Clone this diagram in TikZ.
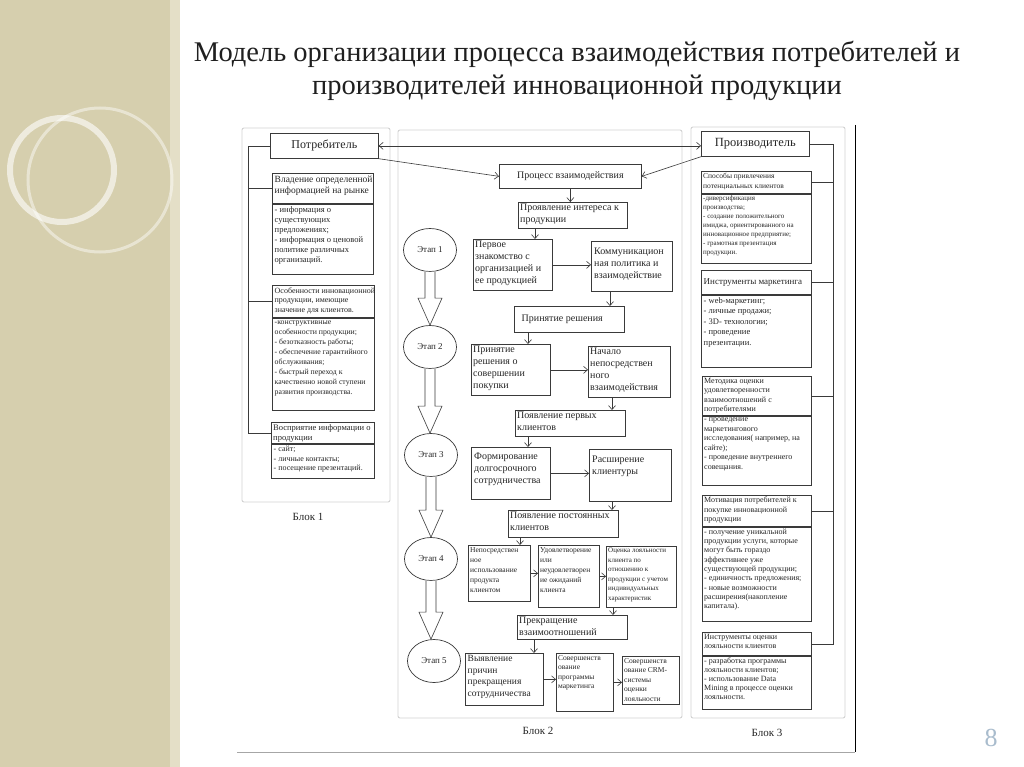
\documentclass[tikz,border=0pt]{standalone}
\usepackage{fontspec}
\setmainfont{Liberation Serif}
\usetikzlibrary{arrows.meta,calc,shapes.geometric}
\definecolor{lnc}{HTML}{3a3a3a}
\definecolor{frc}{HTML}{d2d2d2}
\definecolor{beigec}{HTML}{d6cfae}
\definecolor{bandc}{HTML}{e4dfc7}
\definecolor{numc}{HTML}{a9bccd}
\definecolor{txc}{HTML}{262626}
\newcommand\ftA{\fontsize{10}{12}\selectfont}
\newcommand\ftB{\fontsize{9.5}{11.5}\selectfont}
\newcommand\ftC{\fontsize{8.5}{10}\selectfont}
\newcommand\ftD{\fontsize{8}{9.5}\selectfont}
\newcommand\ftE{\fontsize{7.5}{9.5}\selectfont}
\newcommand\ftF{\fontsize{7}{9}\selectfont}
\newcommand\holarrow[2]{\draw[hol] let \p1=(#1.south), \p2=(#2.north) in (\x1-5pt,\y1) -- (\x1-5pt,\y2+27pt) -- (\x1-12pt,\y2+27pt) -- (\x1,\y2) -- (\x1+12pt,\y2+27pt) -- (\x1+5pt,\y2+27pt) -- (\x1+5pt,\y1);}
\begin{document}
\begin{tikzpicture}[x=1pt,y=-1pt,
 bx/.style={draw=lnc,line width=0.7pt,inner sep=0pt,anchor=north west},
 txt/.style={inner sep=2.5pt,anchor=north west,align=left,text=txc},
 arr/.style={draw=lnc,line width=0.6pt,-{Straight Barb[length=4pt,width=7pt]}},
 darr/.style={draw=lnc,line width=0.6pt,{Straight Barb[length=4pt,width=7pt]}-{Straight Barb[length=4pt,width=7pt]}},
 lnk/.style={draw=lnc,line width=0.6pt},
 fram/.style={draw=frc,line width=0.9pt,rounded corners=2pt},
 etap/.style={ellipse,draw=lnc,line width=0.7pt,fill=white,minimum width=53pt,minimum height=43pt,inner sep=0pt,font=\fontsize{9}{10}\selectfont,text=txc},
 hol/.style={draw=lnc,line width=0.6pt,fill=white,line join=miter},
 blk/.style={font=\fontsize{11}{12}\selectfont,text=txc}]
\useasboundingbox (0,0) rectangle (1024,767);
% background
\fill[white] (0,0) rectangle (1024,767);
\fill[beigec] (0,0) rectangle (180,767);
\fill[bandc] (170,0) rectangle (180,767);
\draw[white,opacity=0.6,line width=6pt] (62,170) circle (52);
\draw[white,opacity=0.45,line width=3pt] (100,180) circle (72);
% title
\node[font=\fontsize{28.5}{33}\selectfont,text=black!88,align=center] (title) at (577,71) {Модель организации процесса взаимодействия потребителей и\\производителей инновационной продукции};
% outer image border
\coordinate (obl) at (237,752);
\coordinate (obr) at (855,752);
\coordinate (otr) at (855,125);
\draw[black!35,line width=1pt] (obl) -- (obr);
\draw[black,line width=1pt] (otr) -- (obr);
% block frames
\draw[fram] (242,128) rectangle (390,502);
\draw[fram] (398,130) rectangle (682,718);
\draw[fram] (691,127) rectangle (845,718);
\node[blk] (l1) at (308,517) {Блок 1};
\node[blk] (l2) at (538,731) {Блок 2};
\node[blk] (l3) at (767,733) {Блок 3};
% ---------- Block 1
\node[bx,minimum width=108pt,minimum height=25pt,anchor=north west,font=\fontsize{12}{14}\selectfont,text=txc] (pot) at (270,133) {Потребитель};
\node[bx,minimum width=101pt,minimum height=30pt] (h1) at (272,173) {};
\node[txt,font=\ftB] at (h1.north west) {Владение определенной\\информацией на рынке};
\node[bx,minimum width=101pt,minimum height=70pt] (b1) at (h1.south west) {};
\node[txt,font=\ftC] at (b1.north west) {- информация о\\существующих\\предложениях;\\- информация о ценовой\\политике различных\\организаций.};
\node[bx,minimum width=102pt,minimum height=32pt] (h2) at (272,285) {};
\node[txt,font=\ftD] at (h2.north west) {Особенности инновационной\\продукции, имеющие\\значение для клиентов.};
\node[bx,minimum width=102pt,minimum height=92pt] (b2) at (h2.south west) {};
\node[txt,font=\fontsize{7.8}{10}\selectfont] at (b2.north west) {-конструктивные\\особенности продукции;\\- безотказность работы;\\- обеспечение гарантийного\\обслуживания;\\- быстрый переход к\\качественно новой ступени\\развития производства.};
\node[bx,minimum width=103pt,minimum height=21pt] (h3) at (271,422) {};
\node[txt,font=\ftC,inner sep=2pt] at (h3.north west) {Восприятие информации о\\продукции};
\node[bx,minimum width=103pt,minimum height=34pt] (b3) at (h3.south west) {};
\node[txt,font=\ftD] at (b3.north west) {- сайт;\\- личные контакты;\\- посещение презентаций.};
\coordinate (lv) at (248,0);
\draw[lnk] (pot.west) -| (lv |- h3.west) -- (h3.west);
\draw[lnk] (h1.west -| lv) -- (h1.west);
\draw[lnk] (h2.west -| lv) -- (h2.west);
% ---------- Block 3
\node[bx,minimum width=108pt,minimum height=25pt,anchor=north west,font=\fontsize{12.5}{14}\selectfont,text=txc] (pro) at (701,131) {Производитель};
\node[bx,minimum width=110pt,minimum height=22pt] (k1h) at (701,171) {};
\node[txt,font=\ftE,inner sep=2pt] at (k1h.north west) {Способы привлечения\\потенциальных клиентов};
\node[bx,minimum width=110pt,minimum height=69pt] (k1b) at (k1h.south west) {};
\node[txt,font=\ftF,inner sep=2pt] at (k1b.north west) {-диверсификация\\производства;\\- создание положительного\\имиджа, ориентированного на\\инновационное предприятие;\\- грамотная презентация\\продукции.};
\node[bx,minimum width=110pt,minimum height=24pt] (k2h) at (701,270) {};
\node[txt,font=\fontsize{9}{11}\selectfont,anchor=west] at (k2h.west) {Инструменты маркетинга};
\node[bx,minimum width=110pt,minimum height=72pt] (k2b) at (k2h.south west) {};
\node[txt,font=\fontsize{8.5}{10.5}\selectfont] at (k2b.north west) {- web-маркетинг;\\- личные продажи;\\- 3D- технологии;\\- проведение\\презентации.};
\node[bx,minimum width=109pt,minimum height=39pt] (k3h) at (702,376) {};
\node[txt,font=\ftD,inner sep=2pt] at (k3h.north west) {Методика оценки\\удовлетворенности\\взаимоотношений с\\потребителями};
\node[bx,minimum width=109pt,minimum height=69pt] (k3b) at (k3h.south west) {};
\node[txt,font=\ftD,inner sep=2pt] at (k3b.north west) {- проведение\\маркетингового\\исследования( например, на\\сайте);\\- проведение внутреннего\\совещания.};
\node[bx,minimum width=109pt,minimum height=31pt] (k4h) at (702,495) {};
\node[txt,font=\ftD,inner sep=2pt] at (k4h.north west) {Мотивация потребителей к\\покупке инновационной\\продукции};
\node[bx,minimum width=109pt,minimum height=94pt] (k4b) at (k4h.south west) {};
\node[txt,font=\fontsize{8}{9.3}\selectfont,inner sep=2pt] at (k4b.north west) {- получение уникальной\\продукции услуги, которые\\могут быть гораздо\\эффективнее уже\\существующей продукции;\\- единичность предложения;\\- новые возможности\\расширения(накопление\\капитала).};
\node[bx,minimum width=109pt,minimum height=23pt] (k5h) at (702,632) {};
\node[txt,font=\ftD,inner sep=2pt] at (k5h.north west) {Инструменты оценки\\лояльности клиентов};
\node[bx,minimum width=109pt,minimum height=53pt] (k5b) at (k5h.south west) {};
\node[txt,font=\fontsize{8}{9}\selectfont,inner sep=2pt] at (k5b.north west) {- разработка программы\\лояльности клиентов;\\- использование Data\\Mining в процессе оценки\\лояльности.};
\coordinate (rv) at (833,0);
\draw[lnk] (pro.east) -| (rv |- k5h.east) -- (k5h.east);
\draw[lnk] (k1h.east -| rv) -- (k1h.east);
\draw[lnk] (k2h.east -| rv) -- (k2h.east);
\draw[lnk] (k3h.east -| rv) -- (k3h.east);
\draw[lnk] (k4h.east -| rv) -- (k4h.east);
% ---------- Block 2
\node[bx,minimum width=142pt,minimum height=24pt,font=\ftA,text=txc] (proc) at (499,164) {Процесс взаимодействия};
\node[bx,minimum width=109pt,minimum height=26pt] (int) at (518,202) {};
\node[txt,font=\ftA,inner sep=2pt] at (int.north west) {Проявление интереса к\\продукции};
\node[bx,minimum width=79pt,minimum height=51pt] (perv) at (473,239) {};
\node[txt,font=\ftA,inner sep=2pt] at (perv.north west) {Первое\\знакомство с\\организацией и\\ее продукцией};
\node[bx,minimum width=81pt,minimum height=50pt] (komm) at (591,241) {};
\node[txt,font=\ftA,inner sep=3pt,yshift=-4pt] at (komm.north west) {Коммуникацион\\ная политика и\\взаимодействие};
\node[bx,minimum width=110pt,minimum height=26pt] (prin) at (514,306) {};
\node[txt,font=\ftA,anchor=west,xshift=5pt] at (prin.west) {Принятие решения};
\node[bx,minimum width=79pt,minimum height=51pt] (pr2) at (471,344) {};
\node[txt,font=\ftA,inner sep=2pt] at (pr2.north west) {Принятие\\решения о\\совершении\\покупки};
\node[bx,minimum width=82pt,minimum height=51pt] (nach) at (588,346) {};
\node[txt,font=\ftA,inner sep=2pt] at (nach.north west) {Начало\\непосредствен\\ного\\взаимодействия};
\node[bx,minimum width=110pt,minimum height=26pt] (pp) at (515,410) {};
\node[txt,font=\ftA,inner sep=2pt] at (pp.north west) {Появление первых\\клиентов};
\node[bx,minimum width=79pt,minimum height=52pt] (form) at (471,447) {};
\node[txt,font=\ftA,inner sep=3pt,yshift=-3pt] at (form.north west) {Формирование\\долгосрочного\\сотрудничества};
\node[bx,minimum width=82pt,minimum height=52pt] (rash) at (589,449) {};
\node[txt,font=\ftA,inner sep=3pt,yshift=-4pt] at (rash.north west) {Расширение\\клиентуры};
\node[bx,minimum width=110pt,minimum height=27pt] (pc) at (508,510) {};
\node[txt,font=\ftA,inner sep=2pt] at (pc.north west) {Появление постоянных\\клиентов};
\node[bx,minimum width=62pt,minimum height=56pt] (nep) at (468,545) {};
\node[txt,font=\fontsize{7.5}{10}\selectfont,inner sep=2pt] at (nep.north west) {Непосредствен\\ное\\использование\\продукта\\клиентом};
\node[bx,minimum width=61pt,minimum height=62pt] (udo) at (538,545) {};
\node[txt,font=\fontsize{7.5}{10}\selectfont,inner sep=2pt] at (udo.north west) {Удовлетворение\\или\\неудовлетворен\\ие ожиданий\\клиента};
\node[bx,minimum width=70pt,minimum height=61pt] (ots) at (606,546) {};
\node[txt,font=\fontsize{7}{9.5}\selectfont,inner sep=2pt] at (ots.north west) {Оценка лояльности\\клиента по\\отношению к\\продукции с учетом\\индивидуальных\\характеристик};
\node[bx,minimum width=110pt,minimum height=24pt] (prek) at (517,615) {};
\node[txt,font=\ftA,inner sep=2pt] at (prek.north west) {Прекращение\\взаимоотношений};
\node[bx,minimum width=78pt,minimum height=52pt] (vyy) at (465,653) {};
\node[txt,font=\ftB,inner sep=2.5pt] at (vyy.north west) {Выявление\\причин\\прекращения\\сотрудничества};
\node[bx,minimum width=57pt,minimum height=58pt] (sov) at (556,653) {};
\node[txt,font=\ftE,inner sep=2pt] at (sov.north west) {Совершенств\\ование\\программы\\маркетинга};
\node[bx,minimum width=57pt,minimum height=48pt] (crm) at (622,656) {};
\node[txt,font=\ftE,inner sep=2pt] at (crm.north west) {Совершенств\\ование CRM-\\системы\\оценки\\лояльности};
% stages
\node[etap] (e1) at (430,250) {Этап 1};
\node[etap] (e2) at (430,347) {Этап 2};
\node[etap] (e3) at (431,455) {Этап 3};
\node[etap] (e4) at (431,559) {Этап 4};
\node[etap] (e5) at (434,661) {Этап 5};
\holarrow{e1}{e2}
\holarrow{e2}{e3}
\holarrow{e3}{e4}
\holarrow{e4}{e5}
% connectors
\draw[darr] (pot.east) -- (pot.east -| pro.west);
\draw[arr] (pot.south east) -- (proc.west);
\draw[arr] (pro.south west) -- (proc.east);
\draw[arr] (proc.south) -- (proc.south |- int.north);
\draw[arr] ([xshift=17pt]int.south west) -- ([xshift=17pt]int.south west |- perv.north);
\draw[arr] (perv.east) -- (perv.east -| komm.west);
\draw[arr] ([xshift=19pt]komm.south west) -- ([xshift=19pt]komm.south west |- prin.north);
\draw[arr] ([xshift=14pt]prin.south west) -- ([xshift=14pt]prin.south west |- pr2.north);
\draw[arr] (pr2.east) -- (pr2.east -| nach.west);
\draw[arr] ([xshift=24pt]nach.south west) -- ([xshift=24pt]nach.south west |- pp.north);
\draw[arr] ([xshift=13pt]pp.south west) -- ([xshift=13pt]pp.south west |- form.north);
\draw[arr] (form.east) -- (form.east -| rash.west);
\draw[arr] ([xshift=23pt]rash.south west) -- ([xshift=23pt]rash.south west |- pc.north);
\draw[arr] ([xshift=12pt]pc.south west) -- ([xshift=12pt]pc.south west |- nep.north);
\draw[arr] (nep.east) -- (nep.east -| udo.west);
\draw[arr] (udo.east) -- (udo.east -| ots.west);
\draw[arr] ([xshift=7pt]ots.south west) -- ([xshift=7pt]ots.south west |- prek.north);
\draw[arr] ([xshift=17pt]prek.south west) -- ([xshift=17pt]prek.south west |- vyy.north);
\draw[arr] (vyy.east) -- (vyy.east -| sov.west);
\draw[arr] (sov.east) -- (sov.east -| crm.west);
% slide number
\node[font=\fontsize{26}{28}\selectfont,text=numc] (num) at (991,738) {8};
\end{tikzpicture}
\end{document}
